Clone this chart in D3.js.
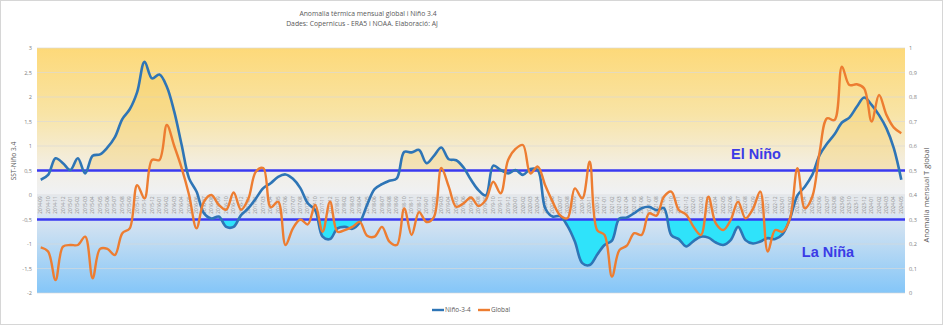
<!DOCTYPE html>
<html><head><meta charset="utf-8">
<script src="https://cdn.jsdelivr.net/npm/d3@7"></script>
<style>
html,body{margin:0;padding:0;background:#fff;}
svg{display:block;font-family:"Open Sans","Liberation Sans",Arial,sans-serif;}
</style></head>
<body><svg id="c" width="943" height="325"></svg>
<script>
// ---- data (monthly, Sep 2014 - May 2024) ----
const startMonth = new Date(2014, 8, 1);
const nino = [0.31,0.41,0.75,0.65,0.51,0.75,0.44,0.80,0.83,0.97,
 1.18,1.55,1.75,2.10,2.72,2.38,2.46,2.21,1.70,1.02,
 0.34,0.07,-0.37,-0.48,-0.44,-0.65,-0.65,-0.41,-0.27,-0.07,
 0.14,0.24,0.37,0.42,0.33,0.14,-0.17,-0.31,-0.85,-0.90,
 -0.68,-0.65,-0.69,-0.56,-0.20,0.12,0.22,0.29,0.34,0.88,
 0.87,0.92,0.65,0.80,0.97,0.73,0.71,0.56,0.31,0.10,
 -0.01,0.60,0.51,0.44,0.51,0.41,0.53,0.51,-0.27,-0.44,
 -0.43,-0.63,-0.95,-1.39,-1.43,-1.22,-1.02,-0.93,-0.48,-0.46,
 -0.37,-0.27,-0.24,-0.31,-0.27,-0.82,-0.90,-1.05,-0.94,-0.85,
 -0.87,-0.97,-1.02,-0.92,-0.65,-0.92,-0.99,-0.95,-0.88,-0.90,
 -0.80,-0.48,-0.01,0.17,0.41,0.82,1.05,1.24,1.48,1.58,
 1.80,1.99,1.84,1.63,1.36,0.95,0.31];
const globalT = [0.186,0.169,0.053,0.189,0.196,0.196,0.23,0.06,0.18,0.18,
 0.155,0.244,0.264,0.44,0.386,0.543,0.543,0.686,0.60,0.51,
 0.40,0.264,0.373,0.40,0.36,0.34,0.41,0.34,0.386,0.495,
 0.51,0.35,0.373,0.196,0.264,0.30,0.28,0.36,0.25,0.373,
 0.25,0.257,0.27,0.29,0.234,0.23,0.27,0.21,0.196,0.345,
 0.237,0.33,0.29,0.31,0.51,0.434,0.352,0.366,0.39,0.355,
 0.38,0.454,0.407,0.543,0.588,0.604,0.488,0.516,0.44,0.373,
 0.318,0.305,0.427,0.386,0.536,0.257,0.237,0.067,0.175,0.193,
 0.244,0.237,0.325,0.316,0.393,0.414,0.339,0.32,0.27,0.237,
 0.393,0.284,0.257,0.298,0.373,0.305,0.343,0.414,0.169,0.257,
 0.25,0.305,0.509,0.346,0.393,0.577,0.713,0.706,0.924,0.849,
 0.852,0.835,0.70,0.808,0.727,0.675,0.652];
const categories = nino.map((d,i)=>d3.timeFormat("%Y-%m")(d3.timeMonth.offset(startMonth,i)));
const leftTicks = [-2,-1.5,-1,-0.5,0,0.5,1,1.5,2,2.5,3];
const rightTicks = [0,0.1,0.2,0.3,0.4,0.5,0.6,0.7,0.8,0.9,1];
const elNinoThreshold = 0.5, laNinaThreshold = -0.5;
const titleLines = ["Anomalia tèrmica mensual global i Niño 3.4","Dades: Copernicus - ERA5 i NOAA. Elaboració: AJ"];
const seriesNames = ["Niño-3-4","Global"];

// ---- layout ----
const svg = d3.select("#c");
const L=37, R=905, T=48, B=293;
const x = d3.scaleBand().domain(categories).range([L,R]).paddingInner(0).paddingOuter(0);
const cx = (i)=> x(categories[i]) + x.bandwidth()/2;
const yL = d3.scaleLinear().domain([-2,3]).range([B,T]);
const yR = d3.scaleLinear().domain([0,1]).range([B,T]);
const fmt = v => String(v).replace(".", ",");

svg.append("rect").attr("x",0.5).attr("y",0.5).attr("width",942).attr("height",324)
  .attr("fill","#fff").attr("stroke","#d6d6d6");

const defs = svg.append("defs");
const gU = defs.append("linearGradient").attr("id","gU").attr("x1",0).attr("y1",0).attr("x2",0).attr("y2",1);
[[0,"#FDD979"],[0.45,"#F8E4A6"],[0.8,"#F3EEE2"],[1,"#EFF1F4"]].forEach(s=>gU.append("stop").attr("offset",s[0]).attr("stop-color",s[1]));
const gD = defs.append("linearGradient").attr("id","gD").attr("x1",0).attr("y1",0).attr("x2",0).attr("y2",1);
[[0,"#E9EEF4"],[0.3,"#D2E2F1"],[1,"#84C6F8"]].forEach(s=>gD.append("stop").attr("offset",s[0]).attr("stop-color",s[1]));
defs.append("clipPath").attr("id","clipUp").append("rect").attr("x",L).attr("y",T).attr("width",R-L).attr("height",yL(elNinoThreshold)-T);
defs.append("clipPath").attr("id","clipDn").append("rect").attr("x",L).attr("y",yL(laNinaThreshold)).attr("width",R-L).attr("height",B-yL(laNinaThreshold));

svg.append("rect").attr("x",L).attr("y",T).attr("width",R-L).attr("height",yL(0)-T).attr("fill","url(#gU)");
svg.append("rect").attr("x",L).attr("y",yL(0)).attr("width",R-L).attr("height",B-yL(0)).attr("fill","url(#gD)");

// gridlines
svg.append("g").selectAll("line").data(leftTicks).join("line")
  .attr("x1",L).attr("x2",R).attr("y1",d=>yL(d)).attr("y2",d=>yL(d))
  .attr("stroke","#d9d9d9").attr("stroke-width",0.8).attr("opacity",0.8);

// category label band
svg.append("rect").attr("x",L).attr("y",yL(0)+1).attr("width",R-L).attr("height",18).attr("fill","#e3e6ea").attr("opacity",0.75);
svg.append("g").selectAll("text").data(categories).join("text")
  .attr("transform",(d,i)=>`translate(${cx(i)+1.6},${yL(0)+10}) rotate(-90)`)
  .attr("text-anchor","middle").attr("font-size",4.6).attr("fill","#8a8a8a").text(d=>d);

// fills
const curve = d3.curveCatmullRom.alpha(0.5);
const idx = d3.range(nino.length);
svg.append("path").attr("clip-path","url(#clipUp)")
  .attr("d", d3.area().curve(curve).x(i=>cx(i)).y0(yL(elNinoThreshold)).y1(i=>yL(nino[i]))(idx))
  .attr("fill","#F5C650").attr("opacity",0.3);
svg.append("path").attr("clip-path","url(#clipDn)")
  .attr("d", d3.area().curve(curve).x(i=>cx(i)).y0(yL(laNinaThreshold)).y1(i=>yL(nino[i]))(idx))
  .attr("fill","#2FE3FA");

// thresholds
[elNinoThreshold, laNinaThreshold].forEach(t=>{
  svg.append("line").attr("x1",L).attr("x2",R).attr("y1",yL(t)).attr("y2",yL(t))
    .attr("stroke","#3A3AF0").attr("stroke-width",2.4);
});

// axes
const axL = svg.append("g").attr("transform",`translate(${L},0)`)
  .call(d3.axisLeft(yL).tickValues(leftTicks).tickFormat(fmt).tickSize(0).tickPadding(5));
const axR = svg.append("g").attr("transform",`translate(${R},0)`)
  .call(d3.axisRight(yR).tickValues(rightTicks).tickFormat(fmt).tickSize(0).tickPadding(4));
[axL,axR].forEach(a=>{a.select(".domain").remove(); a.selectAll("text").attr("font-size",5.6).attr("fill","#7f7f7f").attr("font-family","Open Sans, Liberation Sans, sans-serif");});

// series
svg.append("path").attr("d", d3.line().curve(curve).x(i=>cx(i)).y(i=>yL(nino[i]))(idx))
  .attr("fill","none").attr("stroke","#2E75B6").attr("stroke-width",2.6).attr("stroke-linejoin","round");
svg.append("path").attr("d", d3.line().curve(curve).x(i=>cx(i)).y(i=>yR(globalT[i]))(idx))
  .attr("fill","none").attr("stroke","#ED7D31").attr("stroke-width",2.4).attr("stroke-linejoin","round");

// labels
svg.append("text").attr("x",756).attr("y",159).attr("text-anchor","middle").attr("font-size",14.5).attr("font-weight","bold")
  .attr("fill","#3B3BE6").attr("font-family","Liberation Sans, Arial, sans-serif").text("El Niño");
svg.append("text").attr("x",828).attr("y",257).attr("text-anchor","middle").attr("font-size",14.5).attr("font-weight","bold")
  .attr("fill","#3B3BE6").attr("font-family","Liberation Sans, Arial, sans-serif").text("La Niña");

// titles
svg.append("text").attr("x",368).attr("y",16).attr("text-anchor","middle").attr("font-size",6.8).attr("fill","#595959").text(titleLines[0]);
svg.append("text").attr("x",362).attr("y",26).attr("text-anchor","middle").attr("font-size",6.8).attr("fill","#595959").text(titleLines[1]);
svg.append("text").attr("transform","translate(16,161) rotate(-90)").attr("text-anchor","middle").attr("font-size",6.6).attr("fill","#595959").text("SST-Niño 3.4");
svg.append("text").attr("transform","translate(929,195) rotate(-90)").attr("text-anchor","middle").attr("font-size",7.6).attr("fill","#595959").text("Anomalia mensual T global");

// legend
const lg = svg.append("g").attr("transform","translate(432,310)");
lg.append("line").attr("x1",0).attr("x2",12).attr("stroke","#2E75B6").attr("stroke-width",2.4);
lg.append("text").attr("x",13).attr("y",2.2).attr("font-size",6.4).attr("fill","#595959").text(seriesNames[0]);
lg.append("line").attr("x1",46).attr("x2",58).attr("stroke","#ED7D31").attr("stroke-width",2.4);
lg.append("text").attr("x",59).attr("y",2.2).attr("font-size",6.4).attr("fill","#595959").text(seriesNames[1]);
</script></body></html>
